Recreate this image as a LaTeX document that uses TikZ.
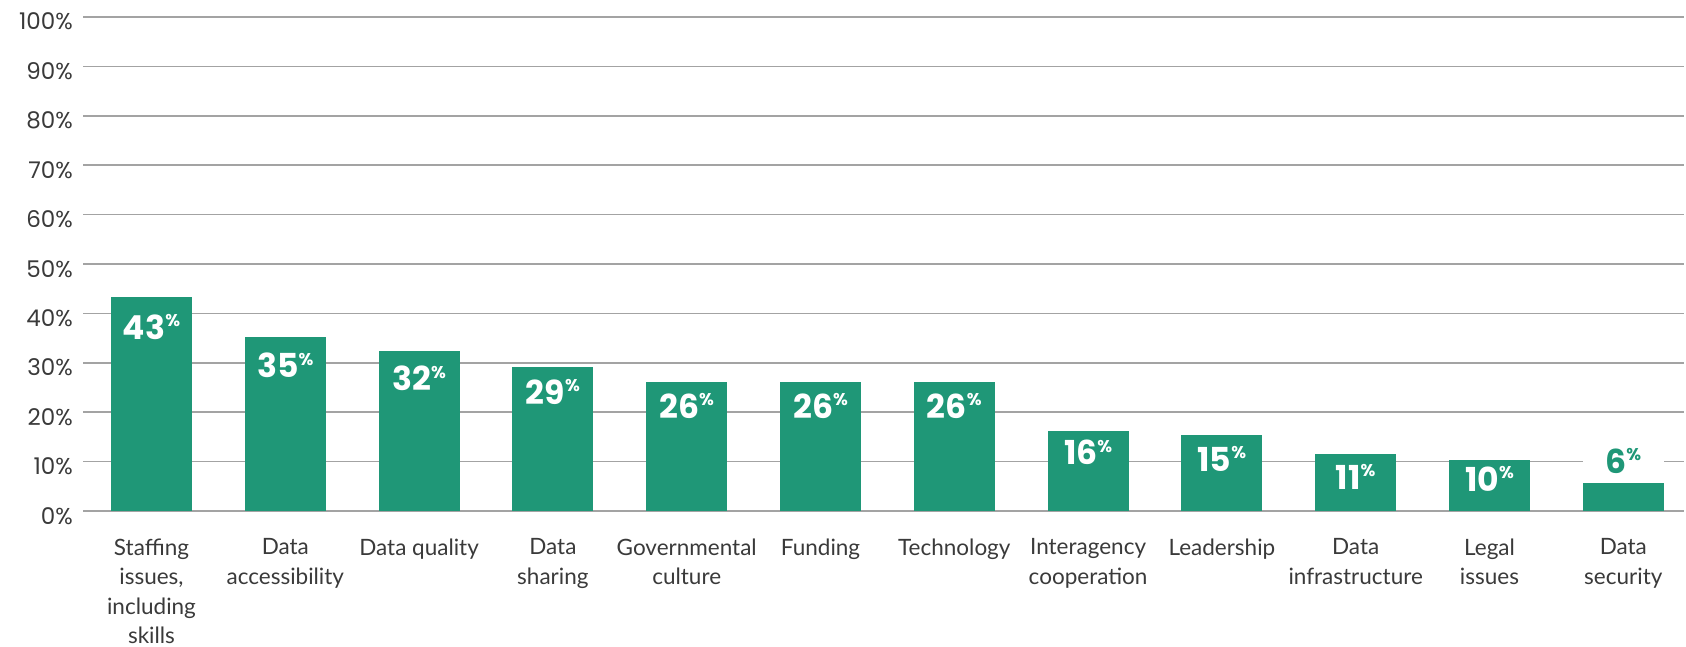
\documentclass[tikz,border=0pt]{standalone}
\usepackage{fontspec}
\setmainfont{Lato}
\newfontfamily\tickfont{Poppins}
\definecolor{barg}{HTML}{1F9777}
\definecolor{gridc}{HTML}{A3A3A3}
\definecolor{txt}{HTML}{3A3A3A}
\newcommand{\pct}{\raisebox{12.5pt}{\fontsize{17}{17}\selectfont\%}}
\tikzset{
  gridline/.style={draw=gridc, line width=1.6pt},
  bar/.style={fill=barg},
  ticklab/.style={anchor=base east, inner sep=0pt, text=txt, font=\tickfont\fontsize{23}{23}\selectfont},
  vallab/.style={anchor=base, inner sep=0pt, text=white, font=\tickfont\bfseries\fontsize{33}{33}\selectfont},
  catlab/.style={anchor=north, inner sep=0pt, align=center, text=txt, font=\fontsize{22.5}{29.5}\selectfont}
}
\begin{document}
\begin{tikzpicture}[x=1pt,y=-1pt]
\useasboundingbox (0,0) rectangle (1686,647);
% grid and ticks
\foreach \v in {0,...,10}{
  \pgfmathsetmacro{\gy}{511-49.4*\v}
  \draw[gridline] (83,\gy) -- (1684,\gy);
  \pgfmathtruncatemacro{\pv}{10*\v}
  \node[ticklab] (t\v) at (73,\gy+13) {\pv\%};
}
% bars
\foreach \i/\top/\off/\val/\lab in {
  0/297.3/19/43/{Staffing\\issues,\\including\\skills},
  1/336.7/18/35/{Data\\accessibility},
  2/350.7/17/32/{Data quality},
  3/367.3/14/29/{Data\\sharing},
  4/382.3/13/26/{Governmental\\culture},
  5/382.3/13/26/{Funding},
  6/382.3/13/26/{Technology},
  7/430.7/11/16/{Interagency\\cooperation},
  8/435/13/15/{Leadership},
  9/454.3/12/11/{Data\\infrastructure},
  10/460/8/10/{Legal\\issues}}{
  \pgfmathsetmacro{\bl}{111+133.8*\i}
  \fill[bar] (\bl,\top) rectangle (\bl+81,511);
  \node[vallab] (v\i) at (\bl+40.5,\top+\off+23) {\val\pct};
  \node[catlab] (c\i) at (\bl+40.5,538.5) {\lab};
}
% last bar (6%)
\pgfmathsetmacro{\bl}{111+133.8*11}
\fill[white] (\bl,455) rectangle (\bl+81,467);
\fill[bar] (\bl,483.3) rectangle (\bl+81,511);
\node[vallab, text=barg] (v11) at (\bl+40.5,473) {6\pct};
\node[catlab] (c11) at (\bl+40.5,538.5) {Data\\security};
\end{tikzpicture}
\end{document}
